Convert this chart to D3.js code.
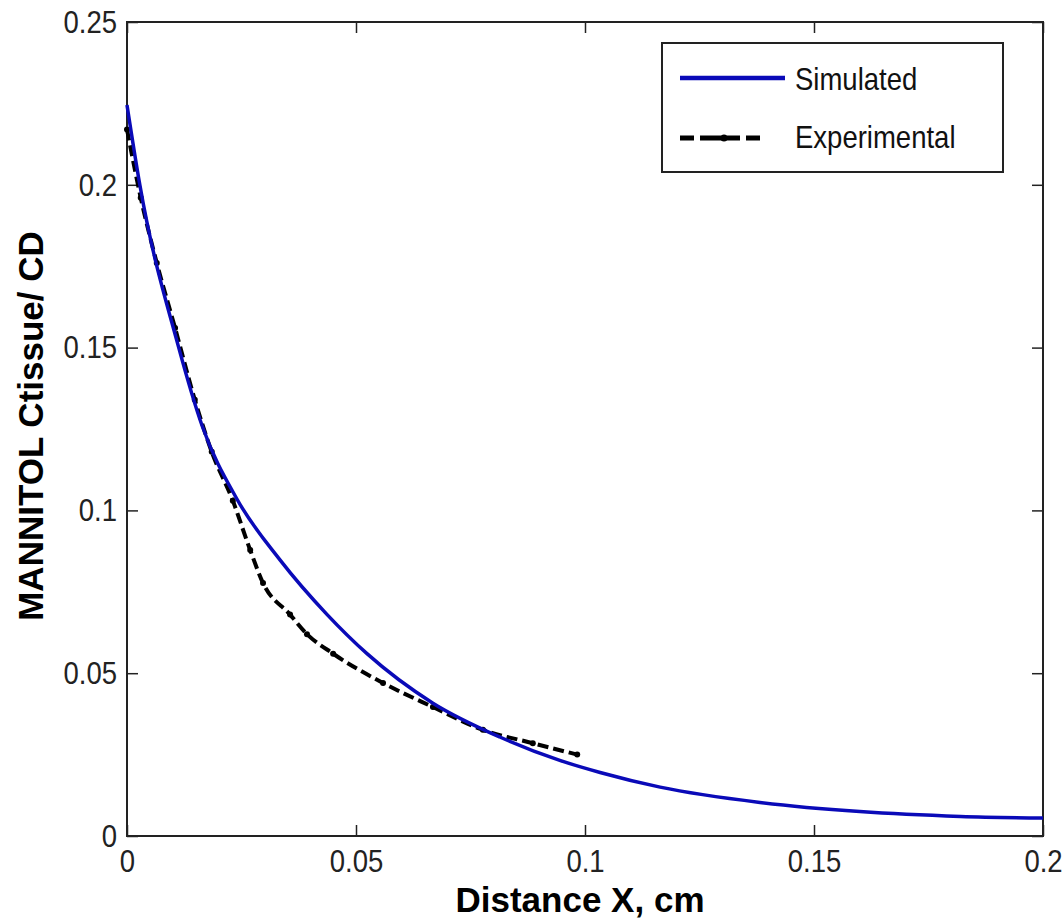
<!DOCTYPE html>
<html lang="en">
<head>
    <meta charset="UTF-8">
    <title>Mannitol concentration vs distance</title>
    <script src="https://cdnjs.cloudflare.com/ajax/libs/d3/7.8.5/d3.min.js"></script>
    <style>
        body {
            margin: 0;
            background: #fff;
        }
        .tick-label {
            font-family: "Liberation Sans", Arial, sans-serif;
            font-size: 32px;
            fill: #222;
        }
        .axis-title {
            font-family: "Liberation Sans", Arial, sans-serif;
            font-weight: bold;
            font-size: 35px;
            fill: #000;
        }
        .legend-text {
            font-family: "Liberation Sans", Arial, sans-serif;
            font-size: 32px;
            fill: #111;
        }
    </style>
</head>
<body>
    <div id="chart"></div>

    <script>
        // Simulated curve
        const simX = [0, 0.0028, 0.0111, 0.0164, 0.024, 0.0334, 0.0437, 0.0524, 0.0668, 0.0814, 0.0945, 0.1033, 0.1164, 0.1382, 0.160, 0.182, 0.2];
        const simY = [0.2245, 0.200, 0.151, 0.126, 0.1035, 0.0848, 0.0680, 0.0560, 0.0408, 0.0304, 0.0232, 0.0195, 0.0150, 0.0103, 0.0075, 0.0060, 0.0055];

        // Experimental points
        const expX = [0, 0.003, 0.0065, 0.0105, 0.0148, 0.0185, 0.0231, 0.0269, 0.0297, 0.0356, 0.0393, 0.045, 0.0559, 0.0668, 0.0777, 0.0886, 0.0983];
        const expY = [0.217, 0.196, 0.176, 0.156, 0.134, 0.118, 0.103, 0.0878, 0.0777, 0.068, 0.062, 0.056, 0.047, 0.0396, 0.0326, 0.0285, 0.0250];

        const xTicks = [0, 0.05, 0.1, 0.15, 0.2];
        const xTickLabels = ["0", "0.05", "0.1", "0.15", "0.2"];
        const yTicks = [0, 0.05, 0.1, 0.15, 0.2, 0.25];
        const yTickLabels = ["0", "0.05", "0.1", "0.15", "0.2", "0.25"];

        const seriesNames = ["Simulated", "Experimental"];

        const margin = {top: 22, right: 19, bottom: 88, left: 127};
        const width = 1062 - margin.left - margin.right;
        const height = 924 - margin.top - margin.bottom;
        const squeeze = 0.86; // narrow look of the original tick font

        const svg = d3.select("#chart")
            .append("svg")
            .attr("width", 1062)
            .attr("height", 924)
            .append("g")
            .attr("transform", `translate(${margin.left},${margin.top})`);

        const x = d3.scaleLinear().domain([0, 0.2]).range([0, width]);
        const y = d3.scaleLinear().domain([0, 0.25]).range([height, 0]);

        const axisColor = "#222";
        const tickLen = 11;

        // Bottom axis with inward ticks
        const xAxis = svg.append("g")
            .attr("transform", `translate(0,${height})`)
            .call(d3.axisBottom(x).tickValues(xTicks).tickSizeInner(-tickLen).tickSizeOuter(0)
                .tickFormat((d, i) => xTickLabels[i]).tickPadding(13));
        xAxis.select(".domain").remove();
        xAxis.selectAll("line").attr("stroke", axisColor).attr("stroke-width", 1.5);
        xAxis.selectAll("text")
            .attr("class", "tick-label")
            .attr("transform", `scale(${squeeze},1)`);

        // Left axis with inward ticks
        const yAxis = svg.append("g")
            .call(d3.axisLeft(y).tickValues(yTicks).tickSizeInner(-tickLen).tickSizeOuter(0)
                .tickFormat((d, i) => yTickLabels[i]));
        yAxis.select(".domain").remove();
        yAxis.selectAll("line").attr("stroke", axisColor).attr("stroke-width", 1.5);
        yAxis.selectAll("text")
            .attr("class", "tick-label")
            .attr("x", -10 / squeeze)
            .attr("transform", `scale(${squeeze},1)`);

        // Top and right ticks (box on)
        const topAxis = svg.append("g")
            .call(d3.axisTop(x).tickValues(xTicks).tickSizeInner(-tickLen).tickSizeOuter(0).tickFormat(""));
        topAxis.select(".domain").remove();
        topAxis.selectAll("line").attr("stroke", axisColor).attr("stroke-width", 1.5);

        const rightAxis = svg.append("g")
            .attr("transform", `translate(${width},0)`)
            .call(d3.axisRight(y).tickValues(yTicks).tickSizeInner(-tickLen).tickSizeOuter(0).tickFormat(""));
        rightAxis.select(".domain").remove();
        rightAxis.selectAll("line").attr("stroke", axisColor).attr("stroke-width", 1.5);

        // Plot frame
        svg.append("rect")
            .attr("x", 0).attr("y", 0)
            .attr("width", width).attr("height", height)
            .attr("fill", "none")
            .attr("stroke", axisColor)
            .attr("stroke-width", 2);

        const simData = simX.map((v, i) => ({x: v, y: simY[i]}));
        const expData = expX.map((v, i) => ({x: v, y: expY[i]}));

        const line = d3.line()
            .x(d => x(d.x))
            .y(d => y(d.y))
            .curve(d3.curveMonotoneX);

        const simColor = "#0a0ab8";

        // Experimental line (dashed with point markers)
        svg.append("path")
            .datum(expData)
            .attr("fill", "none")
            .attr("stroke", "#000")
            .attr("stroke-width", 4)
            .attr("stroke-dasharray", "11,5")
            .attr("d", line);

        svg.selectAll(".exp-pt")
            .data(expData)
            .enter().append("circle")
            .attr("class", "exp-pt")
            .attr("cx", d => x(d.x))
            .attr("cy", d => y(d.y))
            .attr("r", 3)
            .attr("fill", "#000");

        // Simulated line
        svg.append("path")
            .datum(simData)
            .attr("fill", "none")
            .attr("stroke", simColor)
            .attr("stroke-width", 3.5)
            .attr("d", line);

        // Axis titles
        svg.append("text")
            .attr("class", "axis-title")
            .attr("x", width / 2 - 5)
            .attr("y", height + 76)
            .attr("text-anchor", "middle")
            .text("Distance X, cm");

        svg.append("text")
            .attr("class", "axis-title")
            .attr("transform", "rotate(-90)")
            .attr("x", -404)
            .attr("y", -84)
            .attr("text-anchor", "middle")
            .text("MANNITOL Ctissue/ CD");

        // Legend
        const legend = svg.append("g")
            .attr("transform", `translate(${662 - margin.left},${43 - margin.top})`);

        legend.append("rect")
            .attr("width", 341)
            .attr("height", 129)
            .attr("fill", "#fff")
            .attr("stroke", axisColor)
            .attr("stroke-width", 2);

        legend.append("line")
            .attr("x1", 18).attr("x2", 123)
            .attr("y1", 35).attr("y2", 35)
            .attr("stroke", simColor)
            .attr("stroke-width", 4.5);

        legend.append("line")
            .attr("x1", 18).attr("x2", 117)
            .attr("y1", 95).attr("y2", 95)
            .attr("stroke", "#000")
            .attr("stroke-width", 5)
            .attr("stroke-dasharray", "14,6,40,6,14,25");

        legend.append("circle")
            .attr("cx", 62).attr("cy", 95)
            .attr("r", 3.5)
            .attr("fill", "#000");

        legend.selectAll(".legend-text")
            .data(seriesNames)
            .enter().append("text")
            .attr("class", "legend-text")
            .attr("transform", (d, i) => `translate(133,${47 + i * 58}) scale(${squeeze},1)`)
            .text(d => d);
    </script>
</body>
</html>
